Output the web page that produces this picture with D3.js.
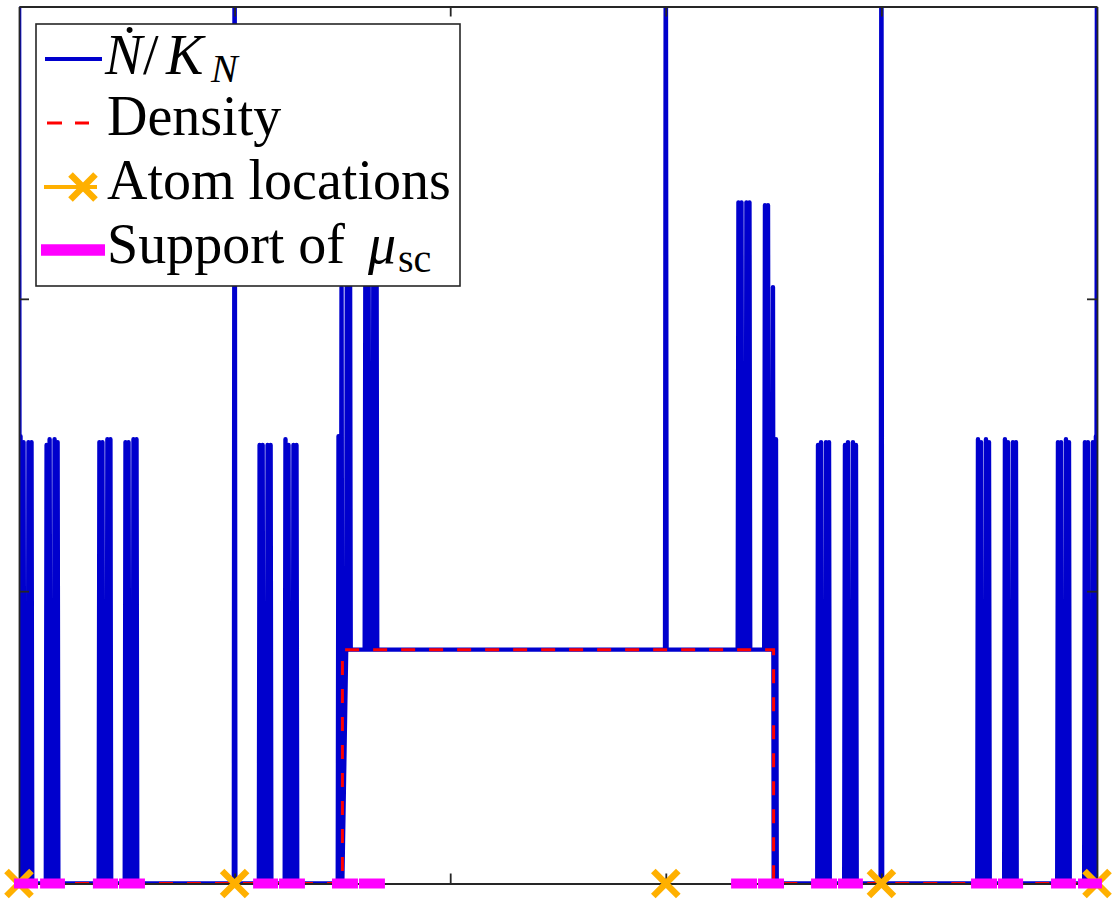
<!DOCTYPE html>
<html>
<head>
<meta charset="utf-8">
<script src="https://cdn.jsdelivr.net/npm/d3@7"></script>
<style>
    body { margin: 0; background: #fff; }
    svg { display: block; }
    .axis path, .axis line { stroke: #262626; stroke-width: 1.8; }
</style>
</head>
<body>
<svg id="chart" width="1114" height="901"></svg>
<script>
"use strict";

// Graph dimensions
const width = 1114;
const height = 901;
const margin = {
    top: 6.5,
    right: 17,
    bottom: 17.5,
    left: 19
};
const innerW = width - margin.left - margin.right;
const innerH = height - margin.top - margin.bottom;

// Data
const xDomain = [0, 5];
const yDomain = [0, 3];
const xTicks = [1, 2, 3, 4];
const yTicks = [1, 2];

// atoms (spike goes off the top of the plot)
const atomX = [0, 1, 3, 4, 5];
const atomH = [3.5, 3.5, 3.5, 3.5, 3.5];

// narrow peaks of Ndot/K_N (4 per cluster)
const spikeX = [
    0.007, 0.021, 0.044, 0.058,
    0.128, 0.142, 0.165, 0.179,
    0.373, 0.387, 0.410, 0.424,
    0.494, 0.508, 0.531, 0.545,
    1.116, 1.130, 1.153, 1.167,
    1.236, 1.250, 1.273, 1.287,
    1.482, 1.496, 1.521, 1.535,
    1.607, 1.621, 1.644, 1.658,
    3.337, 3.351, 3.374, 3.388,
    3.460, 3.474, 3.497, 3.511,
    3.706, 3.720, 3.743, 3.757,
    3.831, 3.845, 3.868, 3.882,
    4.448, 4.462, 4.485, 4.499,
    4.573, 4.587, 4.610, 4.624,
    4.819, 4.833, 4.856, 4.870,
    4.944, 4.958, 4.981, 4.995
];
const spikeH = [
    1.53, 1.51, 1.51, 1.51,
    1.50, 1.52, 1.52, 1.51,
    1.51, 1.51, 1.52, 1.52,
    1.51, 1.51, 1.52, 1.52,
    1.50, 1.50, 1.50, 1.50,
    1.52, 1.50, 1.50, 1.50,
    1.53, 2.04, 2.32, 2.33,
    2.33, 2.33, 2.33, 2.33,
    2.33, 2.33, 2.33, 2.33,
    2.32, 2.32, 2.04, 1.52,
    1.50, 1.51, 1.51, 1.51,
    1.50, 1.51, 1.51, 1.50,
    1.52, 1.51, 1.52, 1.51,
    1.52, 1.51, 1.51, 1.51,
    1.51, 1.51, 1.52, 1.51,
    1.51, 1.51, 1.51, 1.53
];

// density (step)
const densityX = [0, 1.5, 1.5, 3.5, 3.5, 5];
const densityY = [0, 0, 0.8, 0.8, 0, 0];

// support of mu_sc
const supportStart = [0.000, 0.121, 0.366, 0.487, 1.109, 1.229, 1.475, 1.600,
                      3.326, 3.451, 3.697, 3.822, 4.439, 4.564, 4.810, 4.935];
const supportEnd   = [0.065, 0.190, 0.436, 0.561, 1.178, 1.303, 1.549, 1.674,
                      3.400, 3.525, 3.771, 3.891, 4.513, 4.634, 4.879, 5.000];

// colours
const colBlue = "#0000cd";
const colRed = "#ff0000";
const colOrange = "#ffb000";
const colMagenta = "#ff00ff";
const serif = "'Liberation Serif', 'DejaVu Serif', serif";

// Scales
const xScale = d3.scaleLinear().domain(xDomain).range([0, innerW]);
const yScale = d3.scaleLinear().domain(yDomain).range([innerH, 0]);
const line = d3.line()
    .x(d => xScale(d[0]))
    .y(d => yScale(d[1]));

const svg = d3.select("#chart");
svg.append("defs").append("clipPath").attr("id", "clip")
    .append("rect").attr("width", innerW).attr("height", innerH);

const plot = svg.append("g").attr("transform", `translate(${margin.left}, ${margin.top})`);

// level of the density at x (the curve sits on it between peaks)
function densityAt(x) {
    for (let i = 0; i < densityX.length - 1; i++) {
        if (x >= densityX[i] && x <= densityX[i + 1] && densityX[i] !== densityX[i + 1]) {
            return densityY[i];
        }
    }
    return 0;
}

// build Ndot/K_N vertices from the peaks
let peaks = spikeX.map((x, i) => [x, spikeH[i]])
    .concat(atomX.map((x, i) => [x, atomH[i]]))
    .sort((a, b) => a[0] - b[0]);
const hw = 0.0035;
let ndot = [];
peaks.forEach(p => {
    ndot.push([p[0] - hw, densityAt(p[0] - hw)]);
    ndot.push(p);
    ndot.push([p[0] + hw, densityAt(p[0] + hw)]);
});

plot.append("path")
    .attr("clip-path", "url(#clip)")
    .attr("d", line(ndot))
    .attr("fill", "none")
    .attr("stroke", colBlue)
    .attr("stroke-width", 4.4)
    .attr("stroke-linejoin", "round");

plot.append("path")
    .attr("clip-path", "url(#clip)")
    .attr("d", line(densityX.map((x, i) => [x, densityY[i]])))
    .attr("fill", "none")
    .attr("stroke", colRed)
    .attr("stroke-width", 3)
    .attr("stroke-dasharray", "14,14");

// axes box, ticks inward, no labels
plot.append("g").attr("class", "axis")
    .attr("transform", `translate(0, ${innerH})`)
    .call(d3.axisBottom(xScale).tickValues(xTicks).tickSizeInner(-10).tickSizeOuter(0).tickFormat(""));
plot.append("g").attr("class", "axis")
    .call(d3.axisTop(xScale).tickValues(xTicks).tickSizeInner(-10).tickSizeOuter(0).tickFormat(""));
plot.append("g").attr("class", "axis")
    .call(d3.axisLeft(yScale).tickValues(yTicks).tickSizeInner(-10).tickSizeOuter(0).tickFormat(""));
plot.append("g").attr("class", "axis")
    .attr("transform", `translate(${innerW}, 0)`)
    .call(d3.axisRight(yScale).tickValues(yTicks).tickSizeInner(-10).tickSizeOuter(0).tickFormat(""));

// atom markers
function drawX(g, cx, cy) {
    const s = 12.5;
    g.append("path")
        .attr("d", `M${cx - s},${cy - s}L${cx + s},${cy + s}M${cx - s},${cy + s}L${cx + s},${cy - s}`)
        .attr("stroke", colOrange)
        .attr("stroke-width", 6.5)
        .attr("fill", "none");
}
atomX.forEach(x => drawX(plot, xScale(x), yScale(0)));

// support segments
plot.selectAll(".support")
    .data(supportStart)
    .enter()
    .append("line")
        .attr("class", "support")
        .attr("x1", d => xScale(d))
        .attr("x2", (d, i) => xScale(supportEnd[i]))
        .attr("y1", yScale(0))
        .attr("y2", yScale(0))
        .attr("stroke", colMagenta)
        .attr("stroke-width", 10)
        .attr("stroke-linecap", "square");

// legend
const legend = svg.append("g");
legend.append("rect")
    .attr("x", 36).attr("y", 24)
    .attr("width", 424).attr("height", 262)
    .attr("fill", "#fff")
    .attr("stroke", "#262626")
    .attr("stroke-width", 1.6);

legend.append("line")
    .attr("x1", 45).attr("x2", 102).attr("y1", 59).attr("y2", 59)
    .attr("stroke", colBlue).attr("stroke-width", 4);
legend.append("line")
    .attr("x1", 47).attr("x2", 89).attr("y1", 123).attr("y2", 123)
    .attr("stroke", colRed).attr("stroke-width", 3)
    .attr("stroke-dasharray", "15,13");
legend.append("line")
    .attr("x1", 44).attr("x2", 97).attr("y1", 187).attr("y2", 187)
    .attr("stroke", colOrange).attr("stroke-width", 4);
drawX(legend, 83, 187);
legend.append("line")
    .attr("x1", 41).attr("x2", 105).attr("y1", 250).attr("y2", 250)
    .attr("stroke", colMagenta).attr("stroke-width", 11.5);

const fs = 56;
function addText(y) {
    return legend.append("text")
        .attr("y", y)
        .attr("font-family", serif)
        .attr("font-size", fs)
        .attr("fill", "#000");
}
const t1 = addText(74);
t1.append("tspan").attr("x", 105).attr("font-style", "italic").text("Ṅ");
t1.append("tspan").attr("x", 143).text("/");
t1.append("tspan").attr("x", 166).attr("font-style", "italic").text("K");
t1.append("tspan").attr("x", 211).attr("dy", 8).attr("font-size", 40).attr("font-style", "italic").text("N");

addText(135).attr("x", 107).text("Density");
addText(199).attr("x", 107).text("Atom locations");

const t4 = addText(263);
t4.append("tspan").attr("x", 107).text("Support of");
t4.append("tspan").attr("x", 368).attr("font-style", "italic").text("μ");
t4.append("tspan").attr("x", 398).attr("dy", 9).attr("font-size", 40).text("sc");
</script>
</body>
</html>
